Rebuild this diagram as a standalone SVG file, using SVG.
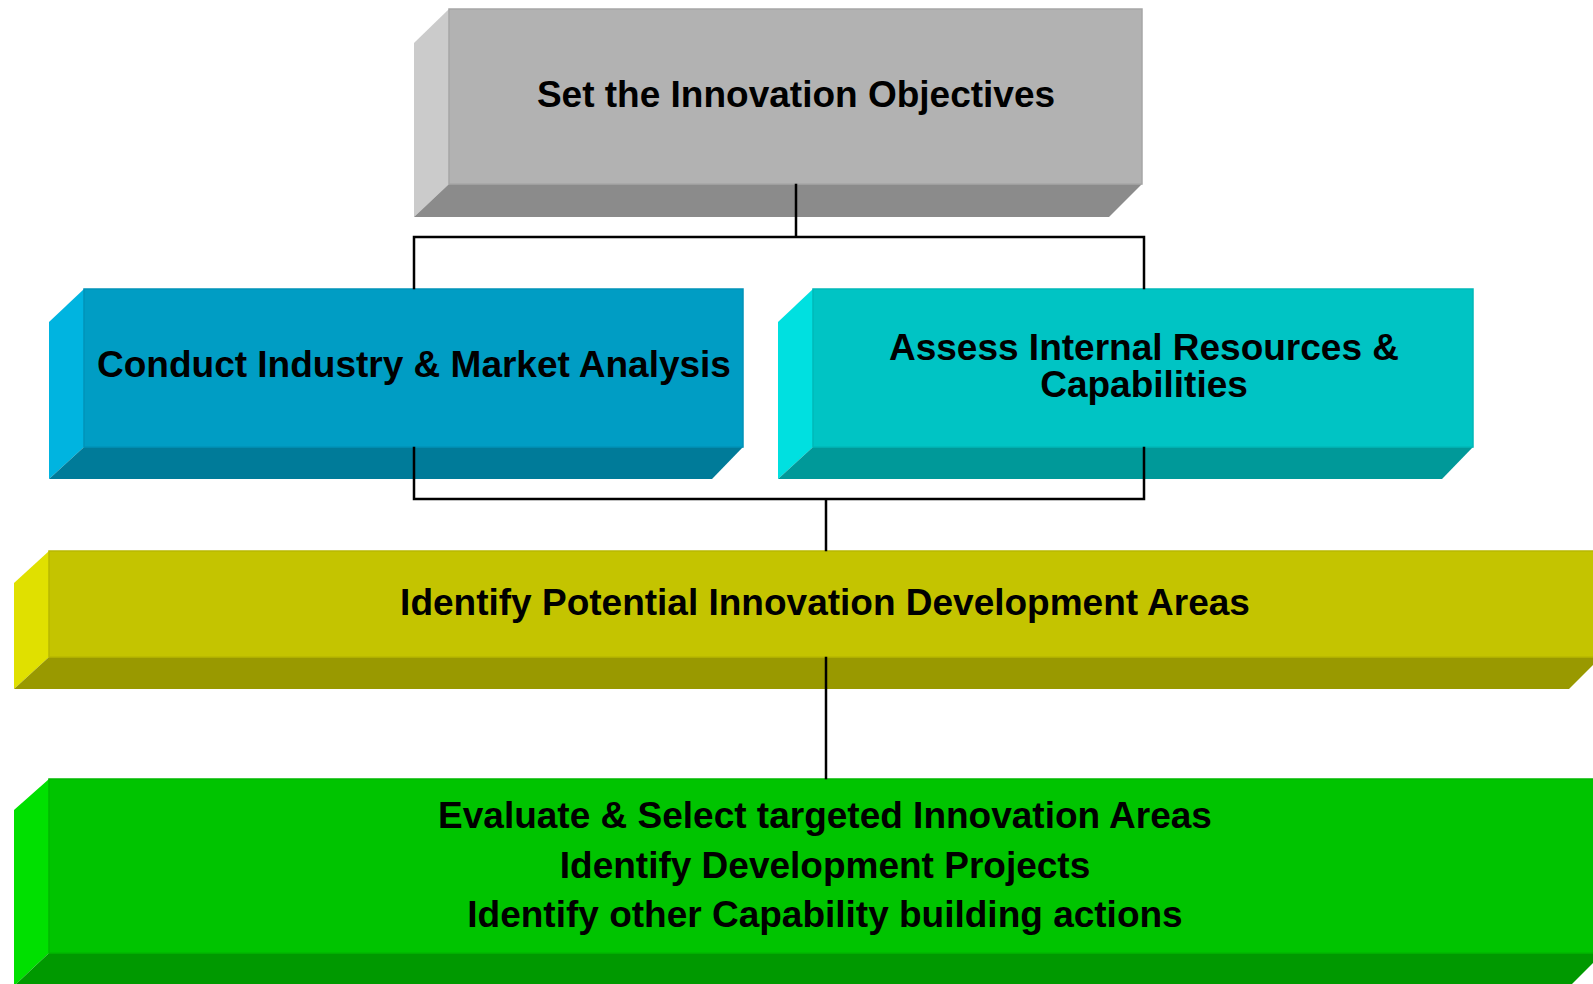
<svg xmlns="http://www.w3.org/2000/svg" width="1593" height="984" viewBox="0 0 1593 984">
  <style>
    .lbl { font-family: "Liberation Sans", Arial, Helvetica, sans-serif; font-weight: bold; font-size: 37px; fill: #000; text-anchor: middle; }
    .wire { fill: none; stroke: #000; stroke-width: 2.5; stroke-linecap: square; }
    .gray .front { fill: #b2b2b2; stroke: #a6a6a6; }
    .gray .side { fill: #cbcbcb; }
    .gray .base { fill: #8b8b8b; }
    .blue .front { fill: #009dc4; stroke: #0093b8; }
    .blue .side { fill: #00b4e0; }
    .blue .base { fill: #007b99; }
    .teal .front { fill: #00c4c4; stroke: #00b8b8; }
    .teal .side { fill: #00e0e0; }
    .teal .base { fill: #009999; }
    .olive .front { fill: #c4c400; stroke: #b8b800; }
    .olive .side { fill: #e0e000; }
    .olive .base { fill: #999900; }
    .lime .front { fill: #00c400; stroke: #00b800; }
    .lime .side { fill: #00e000; }
    .lime .base { fill: #009900; }
    .front { stroke-width: 1.5; }
  </style>

  <rect width="1593" height="984" fill="#fff"/>

  <!-- Objectives -->
  <g id="objectives" class="gray">
    <polygon class="side" points="414,43 449,9 449,184 414,217"/>
    <polygon class="base" points="449,184 1142,184 1109,217 414,217"/>
    <rect class="front" x="449" y="9" width="693" height="175"/>
    <text class="lbl" x="796" y="107">Set the Innovation Objectives</text>
  </g>

  <!-- Industry & market analysis -->
  <g id="market-analysis" class="blue">
    <polygon class="side" points="49,322 84,289 84,447 49,479"/>
    <polygon class="base" points="84,447 743,447 712,479 49,479"/>
    <rect class="front" x="84" y="289" width="659" height="158"/>
    <text class="lbl" x="414" y="377">Conduct Industry &amp; Market Analysis</text>
  </g>

  <!-- Internal resources -->
  <g id="internal-resources" class="teal">
    <polygon class="side" points="778,322 813,289 813,447 778,479"/>
    <polygon class="base" points="813,447 1473,447 1442,479 778,479"/>
    <rect class="front" x="813" y="289" width="660" height="158"/>
    <text class="lbl" x="1144" y="360">Assess Internal Resources &amp;<tspan x="1144" dy="37">Capabilities</tspan></text>
  </g>

  <!-- Development areas -->
  <g id="development-areas" class="olive">
    <polygon class="side" points="14,583 49,551 49,657 14,689"/>
    <polygon class="base" points="49,657 1601,657 1569,689 14,689"/>
    <rect class="front" x="49" y="551" width="1552" height="106"/>
    <text class="lbl" x="825" y="615">Identify Potential Innovation Development Areas</text>
  </g>

  <!-- Evaluation & selection -->
  <g id="evaluate-select" class="lime">
    <polygon class="side" points="14,810 49,779 49,953 14,986"/>
    <polygon class="base" points="49,953 1603,953 1570,986 14,986"/>
    <rect class="front" x="49" y="779" width="1554" height="174"/>
    <text class="lbl" x="825" y="828">Evaluate &amp; Select targeted Innovation Areas</text>
    <text class="lbl" x="825" y="878">Identify Development Projects</text>
    <text class="lbl" x="825" y="927">Identify other Capability building actions</text>
  </g>

  <!-- Connectors -->
  <g id="connectors">
    <path class="wire" d="M796,185 V237 M414,237 H1144 M414,237 V288 M1144,237 V288"/>
    <path class="wire" d="M414,448 V499 M1144,448 V499 M414,499 H1144 M826,499 V550"/>
    <path class="wire" d="M826,658 V778"/>
  </g>
</svg>
